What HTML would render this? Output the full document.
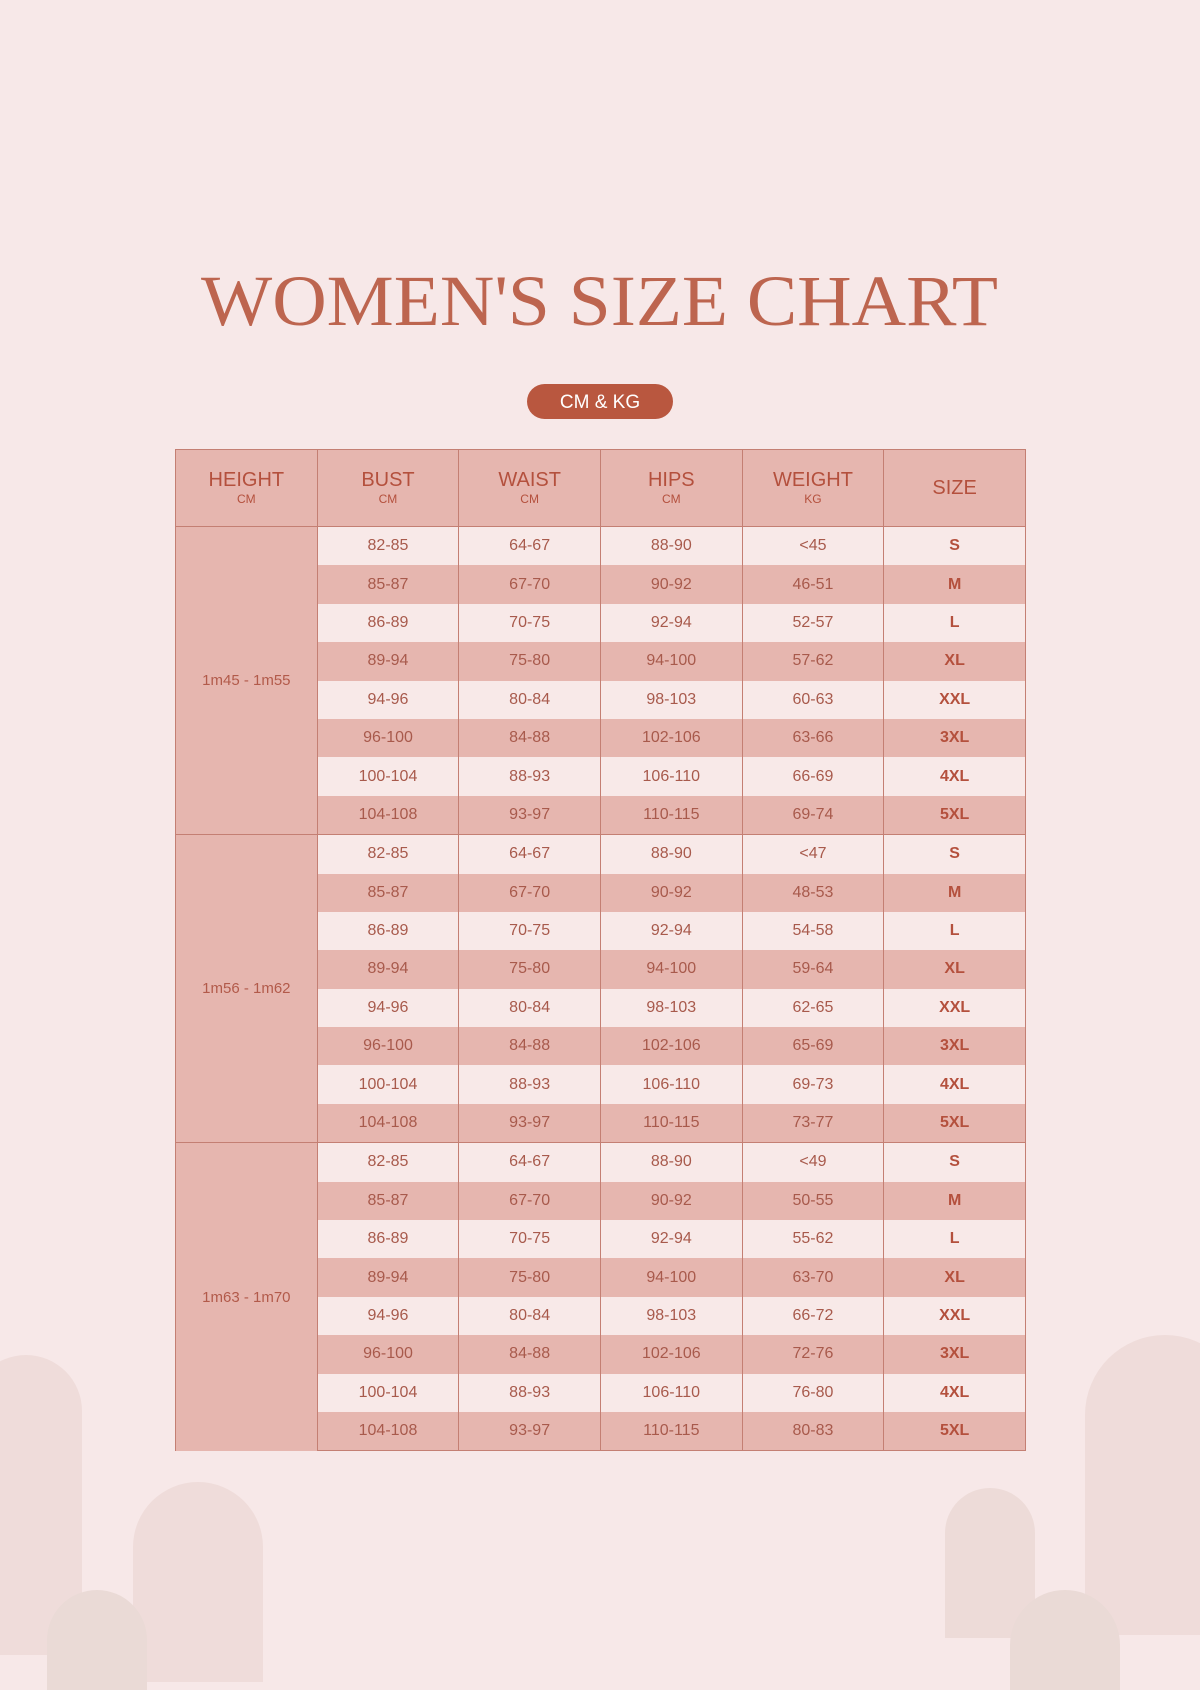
<!DOCTYPE html>
<html><head><meta charset="utf-8"><style>
html,body{margin:0;padding:0;}
body{width:1200px;height:1600px;background:#f7e8e8;position:relative;overflow:hidden;font-family:"Liberation Sans",sans-serif;}
.arch{position:absolute;border-radius:999px 999px 0 0;}
table{position:absolute;left:175px;top:449px;width:851px;border-collapse:collapse;table-layout:fixed;}
td,th{border-left:1.5px solid #c47f73;border-right:1.5px solid #c47f73;padding:0;text-align:center;color:#a85a4c;font-size:16px;height:38.4px;}
th{background:#e6b6af;height:76px;color:#b4503d;font-weight:normal;font-size:20px;line-height:22px;border-top:1.5px solid #c47f73;border-bottom:1.5px solid #c47f73;}
th small{display:block;font-size:12px;line-height:16px;}
tr.d td{background:#e6b6af;}
tr.l td{background:#f8e9e8;}
td.h{background:#e6b6af !important;color:#b25a4a;font-size:15px;}
td.s{font-weight:bold;color:#b4503d;font-size:16px;}
tr.g td{border-top:1.5px solid #c47f73;}
tr.last td{border-bottom:1.5px solid #c47f73;}
</style></head><body>
<div class="arch" style="left:-30px;top:1355px;width:112px;height:300px;background:#efdcda;"></div>
<div class="arch" style="left:133px;top:1482px;width:130px;height:200px;background:#efdcda;"></div>
<div class="arch" style="left:47px;top:1590px;width:100px;height:100px;background:#eadad6;"></div>
<div class="arch" style="left:1085px;top:1335px;width:160px;height:300px;background:#efdcda;"></div>
<div class="arch" style="left:945px;top:1488px;width:90px;height:150px;background:#eddbd8;"></div>
<div class="arch" style="left:1010px;top:1590px;width:110px;height:100px;background:#eadad6;"></div>
<svg style="position:absolute;left:0;top:0" width="1200" height="440">
<text x="201" y="325" textLength="797" lengthAdjust="spacingAndGlyphs" font-family="Liberation Serif, serif" font-size="72" fill="#bd654f">WOMEN'S SIZE CHART</text>
<rect x="527" y="384" width="146" height="35" rx="17.5" fill="#b9573f"/>
<text x="600" y="408" text-anchor="middle" font-family="Liberation Sans, sans-serif" font-size="19" fill="#fff">CM &amp; KG</text>
</svg>
<table>
<tr><th>HEIGHT<small>CM</small></th><th>BUST<small>CM</small></th><th>WAIST<small>CM</small></th><th>HIPS<small>CM</small></th><th>WEIGHT<small>KG</small></th><th>SIZE</th></tr>
<tr class="l g"><td class="h" rowspan="8">1m45 - 1m55</td><td>82-85</td><td>64-67</td><td>88-90</td><td>&lt;45</td><td class="s">S</td></tr>
<tr class="d"><td>85-87</td><td>67-70</td><td>90-92</td><td>46-51</td><td class="s">M</td></tr>
<tr class="l"><td>86-89</td><td>70-75</td><td>92-94</td><td>52-57</td><td class="s">L</td></tr>
<tr class="d"><td>89-94</td><td>75-80</td><td>94-100</td><td>57-62</td><td class="s">XL</td></tr>
<tr class="l"><td>94-96</td><td>80-84</td><td>98-103</td><td>60-63</td><td class="s">XXL</td></tr>
<tr class="d"><td>96-100</td><td>84-88</td><td>102-106</td><td>63-66</td><td class="s">3XL</td></tr>
<tr class="l"><td>100-104</td><td>88-93</td><td>106-110</td><td>66-69</td><td class="s">4XL</td></tr>
<tr class="d"><td>104-108</td><td>93-97</td><td>110-115</td><td>69-74</td><td class="s">5XL</td></tr>
<tr class="l g"><td class="h" rowspan="8">1m56 - 1m62</td><td>82-85</td><td>64-67</td><td>88-90</td><td>&lt;47</td><td class="s">S</td></tr>
<tr class="d"><td>85-87</td><td>67-70</td><td>90-92</td><td>48-53</td><td class="s">M</td></tr>
<tr class="l"><td>86-89</td><td>70-75</td><td>92-94</td><td>54-58</td><td class="s">L</td></tr>
<tr class="d"><td>89-94</td><td>75-80</td><td>94-100</td><td>59-64</td><td class="s">XL</td></tr>
<tr class="l"><td>94-96</td><td>80-84</td><td>98-103</td><td>62-65</td><td class="s">XXL</td></tr>
<tr class="d"><td>96-100</td><td>84-88</td><td>102-106</td><td>65-69</td><td class="s">3XL</td></tr>
<tr class="l"><td>100-104</td><td>88-93</td><td>106-110</td><td>69-73</td><td class="s">4XL</td></tr>
<tr class="d"><td>104-108</td><td>93-97</td><td>110-115</td><td>73-77</td><td class="s">5XL</td></tr>
<tr class="l g"><td class="h" rowspan="8">1m63 - 1m70</td><td>82-85</td><td>64-67</td><td>88-90</td><td>&lt;49</td><td class="s">S</td></tr>
<tr class="d"><td>85-87</td><td>67-70</td><td>90-92</td><td>50-55</td><td class="s">M</td></tr>
<tr class="l"><td>86-89</td><td>70-75</td><td>92-94</td><td>55-62</td><td class="s">L</td></tr>
<tr class="d"><td>89-94</td><td>75-80</td><td>94-100</td><td>63-70</td><td class="s">XL</td></tr>
<tr class="l"><td>94-96</td><td>80-84</td><td>98-103</td><td>66-72</td><td class="s">XXL</td></tr>
<tr class="d"><td>96-100</td><td>84-88</td><td>102-106</td><td>72-76</td><td class="s">3XL</td></tr>
<tr class="l"><td>100-104</td><td>88-93</td><td>106-110</td><td>76-80</td><td class="s">4XL</td></tr>
<tr class="d last"><td>104-108</td><td>93-97</td><td>110-115</td><td>80-83</td><td class="s">5XL</td></tr>
</table>
</body></html>
